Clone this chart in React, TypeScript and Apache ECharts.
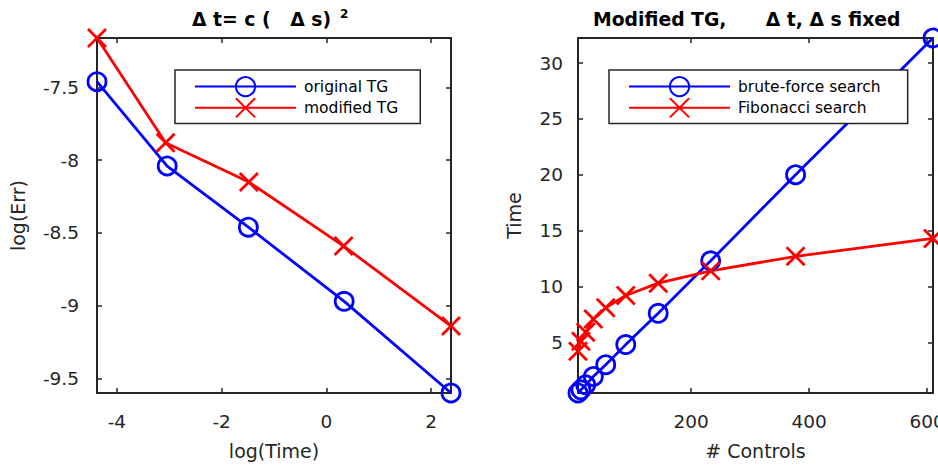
import React, { useEffect, useRef } from 'react';
import * as echarts from 'echarts';

// ---------- texts ----------
const leftTitle = 'Δ t= c (   Δ s)';
const leftTitleSup = '2';
const rightTitle = 'Modified TG,      Δ t, Δ s fixed';
const leftXName = 'log(Time)';
const leftYName = 'log(Err)';
const rightXName = '# Controls';
const rightYName = 'Time';
const leftSeriesNames = ['original TG', 'modified TG'];
const rightSeriesNames = ['brute-force search', 'Fibonacci search'];

// ---------- left panel data ----------
const logTimeOriginal = [-4.38, -3.04, -1.49, 0.34, 2.38];
const logErrOriginal = [-7.46, -8.04, -8.46, -8.97, -9.6];
const logTimeModified = [-4.38, -3.07, -1.48, 0.33, 2.38];
const logErrModified = [-7.16, -7.88, -8.15, -8.59, -9.14];
const leftXTicks = [-4, -2, 0, 2];
const leftYTicks = [-9.5, -9, -8.5, -8, -7.5];

// ---------- right panel data ----------
const controls = [8, 13, 21, 34, 55, 89, 144, 233, 377, 610];
const bruteForceTime = [0.47, 0.75, 1.2, 1.95, 3.0, 4.8, 7.6, 12.3, 20.0, 32.24];
const fibonacciTime = [4.2, 5.1, 5.9, 7.1, 8.1, 9.2, 10.3, 11.4, 12.7, 14.3];
const rightXTicks = [200, 400, 600];
const rightYTicks = [5, 10, 15, 20, 25, 30];

const FONT = "'DejaVu Sans', Verdana, sans-serif";
const AXIS_COLOR = '#262626';
const BLUE = '#0000ff';
const RED = '#ff0000';
const CROSS = 'path://M0,0L20,20M20,0L0,20';

const zip = (xs: number[], ys: number[]) => xs.map((x, i) => [x, ys[i]]);
const lo = (...arrs: number[][]) => Math.min(...arrs.flat());
const hi = (...arrs: number[][]) => Math.max(...arrs.flat());

function axis(
  isX: boolean,
  gridIndex: number,
  position: string,
  min: number,
  max: number,
  ticks: number[],
  labels: boolean,
  name?: string,
  nameGap?: number,
  labelMargin?: number
) {
  const axisLabel: any = {
    show: labels,
    customValues: ticks,
    fontSize: 18.5,
    color: AXIS_COLOR,
    fontFamily: FONT,
    margin: labelMargin ?? 16,
    hideOverlap: false,
  };
  if (isX) {
    axisLabel.alignMinLabel = 'center';
    axisLabel.alignMaxLabel = 'center';
  }
  return {
    type: 'value',
    gridIndex,
    position,
    min,
    max,
    name: labels ? name : undefined,
    nameLocation: 'middle',
    nameGap,
    nameTextStyle: { fontSize: 19, color: AXIS_COLOR, fontFamily: FONT },
    axisLine: { show: true, onZero: false, lineStyle: { color: AXIS_COLOR, width: 2 } },
    axisTick: {
      show: true,
      inside: true,
      length: 5,
      customValues: ticks,
      lineStyle: { color: AXIS_COLOR, width: 1.5 },
    },
    axisLabel,
    splitLine: { show: false },
  };
}

function lineSeries(
  name: string,
  data: number[][],
  color: string,
  symbol: string,
  size: number,
  axisIndex: number
) {
  return {
    type: 'line',
    name,
    xAxisIndex: axisIndex,
    yAxisIndex: axisIndex,
    data,
    clip: false,
    symbol,
    symbolSize: size,
    showAllSymbol: true,
    lineStyle: { color, width: 2.8 },
    itemStyle: { color: 'transparent', borderColor: color, borderWidth: 2.8 },
    emphasis: { disabled: true },
    z: 3,
  };
}

export default function App() {
  const ref = useRef<HTMLDivElement>(null);

  useEffect(() => {
    if (!ref.current) return;
    const chart = echarts.init(ref.current, null, { renderer: 'svg' });

    const lxMin = lo(logTimeOriginal, logTimeModified);
    const lxMax = hi(logTimeOriginal, logTimeModified);
    const lyMin = lo(logErrOriginal, logErrModified);
    const lyMax = hi(logErrOriginal, logErrModified);
    const rxMin = lo(controls);
    const rxMax = hi(controls);
    const ryMin = lo(bruteForceTime, fibonacciTime);
    const ryMax = hi(bruteForceTime, fibonacciTime);

    const legendCommon = {
      orient: 'vertical',
      itemWidth: 101,
      itemHeight: 24,
      itemGap: 0,
      borderColor: AXIS_COLOR,
      borderWidth: 1.5,
      backgroundColor: '#ffffff',
      selectedMode: false,
      textStyle: { fontSize: 15.5, color: '#000', fontFamily: FONT, padding: [0, 0, 0, 3] },
      z: 10,
    };

    const titleStyle = { fontSize: 18.8, fontWeight: 'bold', color: '#000', fontFamily: FONT };

    const option: any = {
      animation: false,
      backgroundColor: '#ffffff',
      title: [
        { text: leftTitle, left: 192, top: 10, padding: 0, textStyle: titleStyle },
        { text: rightTitle, left: 593, top: 10, padding: 0, textStyle: titleStyle },
      ],
      graphic: [
        {
          type: 'text',
          x: 340,
          y: 13.5,
          style: {
            text: leftTitleSup,
            fill: '#000',
            font: `bold 12px ${FONT}`,
            textAlign: 'left',
            textVerticalAlign: 'middle',
          },
        },
      ],
      legend: [
        {
          ...legendCommon,
          data: leftSeriesNames,
          left: 175,
          top: 70,
          padding: [6, 22, 5, 19],
        },
        {
          ...legendCommon,
          data: rightSeriesNames,
          left: 609,
          top: 70,
          padding: [6, 27, 5, 19],
        },
      ],
      grid: [
        { left: 97, top: 38, width: 354, height: 355, containLabel: false, outerBoundsMode: 'none' },
        { left: 578, top: 38, width: 355, height: 355, containLabel: false, outerBoundsMode: 'none' },
      ],
      xAxis: [
        axis(true, 0, 'bottom', lxMin, lxMax, leftXTicks, true, leftXName, 48, 19),
        axis(true, 0, 'top', lxMin, lxMax, leftXTicks, false),
        axis(true, 1, 'bottom', rxMin, rxMax, rightXTicks, true, rightXName, 48, 19),
        axis(true, 1, 'top', rxMin, rxMax, rightXTicks, false),
      ],
      yAxis: [
        axis(false, 0, 'left', lyMin, lyMax, leftYTicks, true, leftYName, 70, 18),
        axis(false, 0, 'right', lyMin, lyMax, leftYTicks, false),
        axis(false, 1, 'left', ryMin, ryMax, rightYTicks, true, rightYName, 55, 15),
        axis(false, 1, 'right', ryMin, ryMax, rightYTicks, false),
      ],
      series: [
        lineSeries(leftSeriesNames[0], zip(logTimeOriginal, logErrOriginal), BLUE, 'circle', 18, 0),
        lineSeries(leftSeriesNames[1], zip(logTimeModified, logErrModified), RED, CROSS, 18, 0),
        lineSeries(rightSeriesNames[0], zip(controls, bruteForceTime), BLUE, 'circle', 18, 2),
        lineSeries(rightSeriesNames[1], zip(controls, fibonacciTime), RED, CROSS, 18, 2),
      ],
    };

    chart.setOption(option);
    return () => chart.dispose();
  }, []);

  return (
    <div
      ref={ref}
      style={{ position: 'fixed', left: 0, top: 0, width: 938, height: 468 }}
    />
  );
}
